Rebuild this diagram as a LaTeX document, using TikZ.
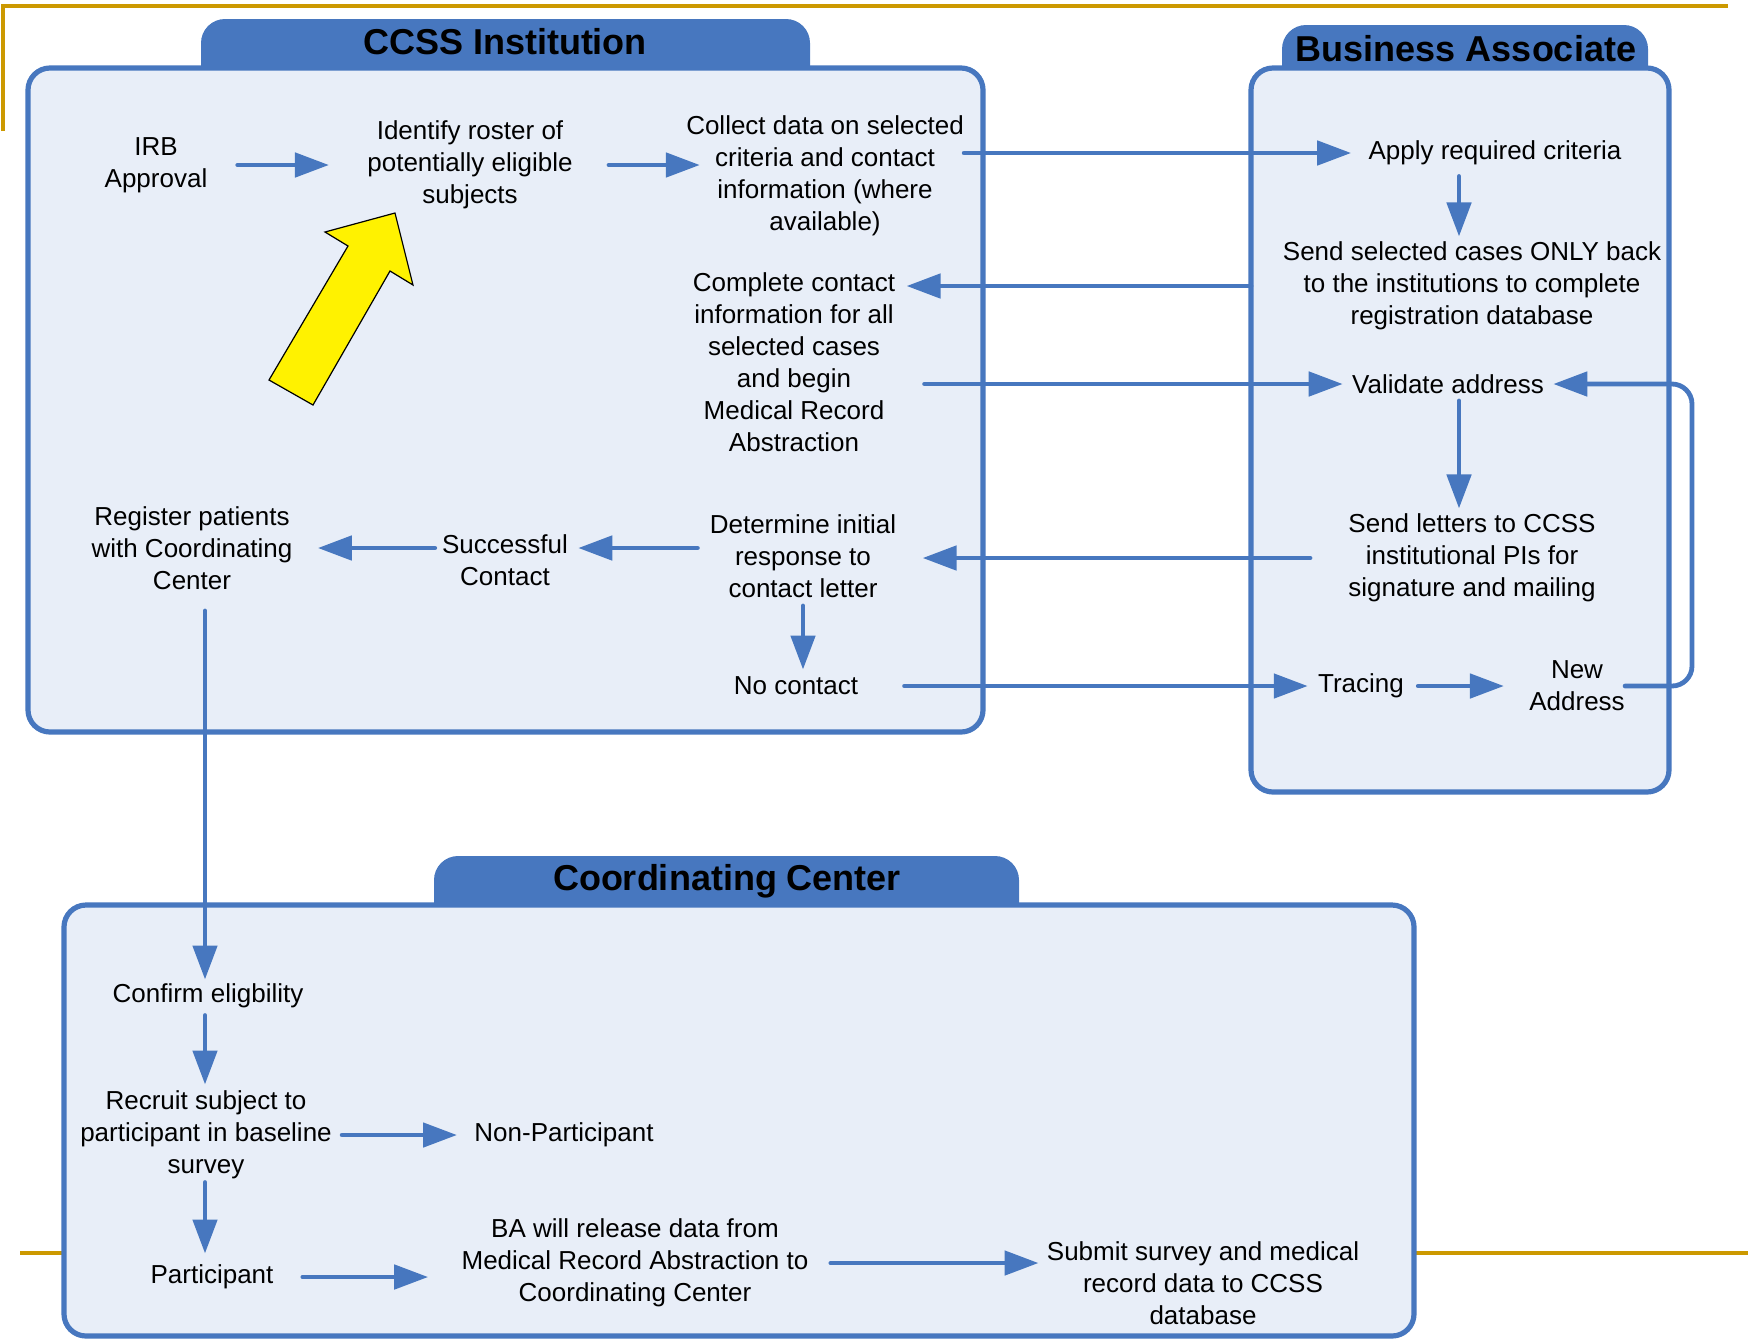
\documentclass[tikz,border=0pt]{standalone}
\usepackage{fontspec}
\setmainfont{Liberation Sans}
\usepackage{tikz}
\usetikzlibrary{arrows.meta,calc}

\definecolor{ccblue}{RGB}{71,119,191}
\definecolor{ccfill}{RGB}{232,238,248}
\definecolor{ccgold}{RGB}{204,153,0}

\tikzset{
  txt/.style={font=\fontsize{13}{16}\selectfont, align=center, inner sep=0pt, yshift=-1.5pt},
  title/.style={font=\fontsize{18}{22}\selectfont\bfseries, inner sep=0pt},
  panel/.style={draw=ccblue, fill=ccfill, line width=2.6pt, rounded corners=11pt,
    outer sep=0pt, inner sep=0pt},
  banner/.style={fill=ccblue, rounded corners=12pt},
  flow/.style={->, draw=ccblue, line width=2.4pt, line cap=round}
}

\begin{document}
\begin{tikzpicture}[x=0.5pt, y=-0.5pt, >={Triangle[length=17pt,width=12pt]}]
      \useasboundingbox (0,0) rectangle (1748,1340);

      % frame lines of the slide
      \draw[ccgold, line width=2pt] (3,131) -- (3,6) -- (1728,6);
      \draw[ccgold, line width=2pt] (20,1253) -- (1748,1253);

      % panels
      \fill[banner] (201,19) rectangle (810,100);
      \fill[banner] (1282,25) rectangle (1648,100);
      \fill[banner] (434,856) rectangle (1019,940);
      \node[panel, minimum width=477.5pt, minimum height=332pt] (inst) at (505.5,400) {};
      \node[panel, minimum width=209pt, minimum height=362pt]   (ba)   at (1460,430)  {};
      \node[panel, minimum width=675pt, minimum height=215.5pt] (cc)   at (739,1120.5) {};
      \node[title] (insttitle) at (505,42)  {CCSS Institution};
      \node[title] (batitle)   at (1466,49) {Business Associate};
      \node[title] (cctitle)   at (727,881) {Coordinating Center};

      % yellow pointer
      \filldraw[fill=yellow, draw=black, line width=0.6pt]
        (395,213) -- (413,285) -- (390,271) -- (313,405) -- (269,380)
        -- (348,246) -- (325,232) -- cycle;

      \coordinate (bax) at (1459,0);
      \coordinate (ccx) at (205,0);
      \coordinate (loopx) at (1692,0);

      % CCSS Institution
      \node[txt] (irb)       at (156,162) {IRB\\Approval};
      \node[txt] (roster)    at (470,162) {Identify roster of\\potentially eligible\\subjects};
      \node[txt] (collect)   at (825,173) {Collect data on selected\\criteria and contact\\information (where\\available)};
      \node[txt] (complete)  at (794,359) {Complete contact\\information for all\\selected cases\\and begin\\Medical Record\\Abstraction};
      \node[txt] (determine) at (803,553) {Determine initial\\response to\\contact letter};
      \node[txt] (success)   at (505,557) {Successful\\Contact};
      \node[txt] (register)  at (192,545) {Register patients\\with Coordinating\\Center};
      \node[txt] (nocontact) at (796,683) {No contact};

      % Business Associate
      \node[txt] (apply)    at (1495,150) {Apply required criteria};
      \node[txt] (sendsel)  at (1472,283) {Send selected cases ONLY back\\to the institutions to complete\\registration database};
      \node[txt] (validate) at (1448,381) {Validate address};
      \node[txt] (letters)  at (1472,555) {Send letters to CCSS\\institutional PIs for\\signature and mailing};
      \node[txt] (tracing)  at (1361,683) {Tracing};
      \node[txt] (newaddr)  at (1577,683) {New\\Address};

      % Coordinating Center
      \node[txt] (confirm)  at (208,993)  {Confirm eligbility};
      \node[txt] (recruit)  at (206,1132) {Recruit subject to\\participant in baseline\\survey};
      \node[txt] (nonpart)  at (564,1132) {Non-Participant};
      \node[txt] (particip) at (212,1274) {Participant};
      \node[txt] (release)  at (635,1260) {BA will release data from\\Medical Record Abstraction to\\Coordinating Center};
      \node[txt] (submit)   at (1203,1280) {Submit survey and medical\\record data to CCSS\\database};

      \draw[flow, shorten <=15pt, shorten >=19pt] (irb) -- (roster);
      \draw[flow, shorten <=18pt, shorten >=-7pt] (roster.east) -- (roster.east -| collect.west);
      \draw[flow, shorten >=8.5pt] (collect.east |- apply) -- (apply.west);
      \draw[flow, shorten <=5.5pt, shorten >=2.5pt] (apply.south -| bax) -- (sendsel.north -| bax);
      \draw[flow, shorten >=5.5pt] (sendsel -| ba.west) -- (sendsel -| complete.east);
      \draw[flow, shorten <=14.5pt, shorten >=4.5pt] (complete.east |- validate) -- (validate.west);
      \draw[flow, shorten <=3.5pt, shorten >=2.5pt] (validate.south -| bax) -- (letters.north -| bax);
      \draw[flow, shorten <=19pt, shorten >=13pt] (letters.west) -- (letters.west -| determine.east);
      \draw[flow, shorten <=6pt, shorten >=5pt] (determine.west |- register) -- (success.east |- register);
      \draw[flow, shorten <=3.5pt, shorten >=12.5pt] (success.west |- register) -- (register.east);
      \draw[flow, shorten <=4pt, shorten >=3.5pt] (determine.south) -- (determine.south |- nocontact.north);
      \draw[flow, shorten <=23pt, shorten >=5pt] (nocontact) -- (tracing);
      \draw[flow, shorten <=7pt, shorten >=12.5pt] (tracing) -- (newaddr);
      \draw[flow, rounded corners=10pt, shorten >=4.5pt] (newaddr.east) -- (newaddr.east -| loopx) |- (validate.east);

      \draw[flow, shorten <=10.5pt, shorten >=2pt] (register.south -| ccx) -- (confirm.north -| ccx);
      \draw[flow, shorten <=3.5pt, shorten >=3pt] (confirm.south -| ccx) -- (recruit.north -| ccx);
      \draw[flow, shorten <=1.5pt, shorten >=5.5pt] (recruit.south -| ccx) -- (particip.north -| ccx);
      \draw[flow, shorten <=5pt, shorten >=8.5pt] (recruit.east |- nonpart) -- (nonpart.west);
      \draw[flow, shorten <=14.5pt, shorten >=16.5pt] (particip.east) -- (particip.east -| release.west);
      \draw[flow, shorten <=11pt, shorten >=4pt] (release.east) -- (release.east -| submit.west);
    \end{tikzpicture}
\end{document}
